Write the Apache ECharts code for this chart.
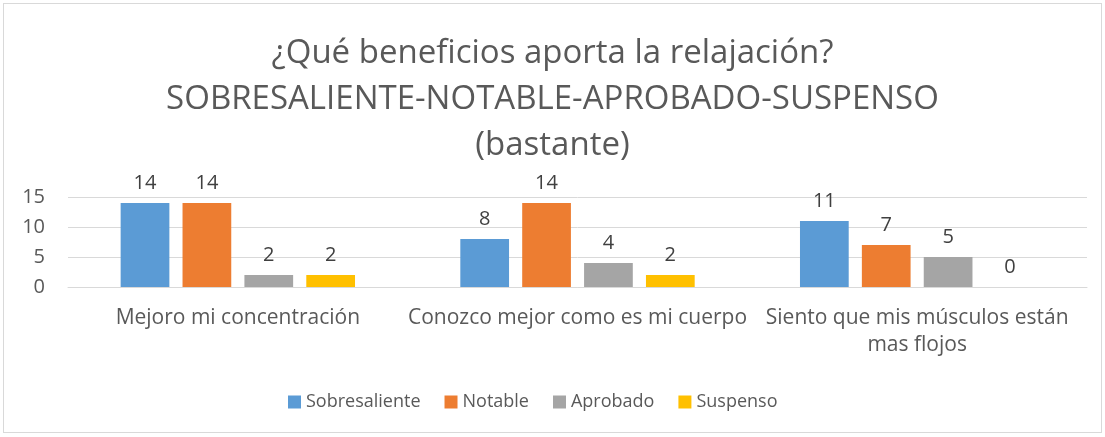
<!DOCTYPE html>
<html>
<head>
<meta charset="utf-8">
<script src="https://cdn.jsdelivr.net/npm/echarts@6/dist/echarts.min.js"></script>
<style>
  html, body { margin: 0; padding: 0; background: #fff; }
  #frame {
    position: absolute; left: 3px; top: 3px; width: 1097px; height: 428px;
    border: 1px solid #d9d9d9;
  }
  #chart { position: absolute; left: 0; top: 0; width: 1105px; height: 437px; }
</style>
</head>
<body>
<div id="frame"></div>
<div id="chart"></div>
<script>
// datos
const categories = [
  'Mejoro mi concentración',
  'Conozco mejor como es mi cuerpo',
  'Siento que mis músculos están\nmas flojos'
]
const sobresaliente = [14, 8, 11]
const notable = [14, 14, 7]
const aprobado = [2, 4, 5]
const suspenso = [2, 2, 0]
const seriesNames = ['Sobresaliente', 'Notable', 'Aprobado', 'Suspenso']
const yTicks = { min: 0, max: 15, interval: 5 }

const font = '"Open Sans", Lato, sans-serif'
const grey = '#595959'

const chart = echarts.init(document.getElementById('chart'))

// etiqueta encima de cada barra
const barLabel = {
  show: true,
  position: 'top',
  distance: 10,
  fontSize: 20,
  color: '#404040',
  fontFamily: font
}

const makeSeries = (name, data) => ({
  name: name,
  type: 'bar',
  data: data,
  barGap: '27%',
  barCategoryGap: '31%',
  label: barLabel
})

chart.setOption({
  color: ['#5B9BD5', '#ED7D31', '#A5A5A5', '#FFC000'],
  animation: false,
  title: {
    text: '¿Qué beneficios aporta la relajación?\nSOBRESALIENTE-NOTABLE-APROBADO-SUSPENSO\n(bastante)',
    left: 'center',
    top: 26,
    textStyle: {
      fontSize: 33,
      fontWeight: 'normal',
      color: grey,
      fontFamily: font,
      lineHeight: 46
    }
  },
  legend: {
    data: seriesNames,
    top: 388,
    left: 283,
    icon: 'rect',
    itemWidth: 13,
    itemHeight: 13,
    itemGap: 24,
    textStyle: { fontSize: 18, color: grey, fontFamily: font }
  },
  grid: { left: 68, right: 18, top: 197, height: 90 },
  xAxis: {
    type: 'category',
    data: categories,
    axisTick: { show: false },
    axisLine: { lineStyle: { color: '#d9d9d9' } },
    axisLabel: {
      fontSize: 21,
      color: grey,
      fontFamily: font,
      margin: 18,
      lineHeight: 27,
      interval: 0
    }
  },
  yAxis: {
    type: 'value',
    min: yTicks.min,
    max: yTicks.max,
    interval: yTicks.interval,
    axisLine: { show: false },
    axisTick: { show: false },
    splitLine: { lineStyle: { color: '#d9d9d9' } },
    axisLabel: { fontSize: 20, color: grey, fontFamily: font, margin: 23 }
  },
  series: [
    makeSeries(seriesNames[0], sobresaliente),
    makeSeries(seriesNames[1], notable),
    makeSeries(seriesNames[2], aprobado),
    makeSeries(seriesNames[3], suspenso)
  ]
})
</script>
</body>
</html>
